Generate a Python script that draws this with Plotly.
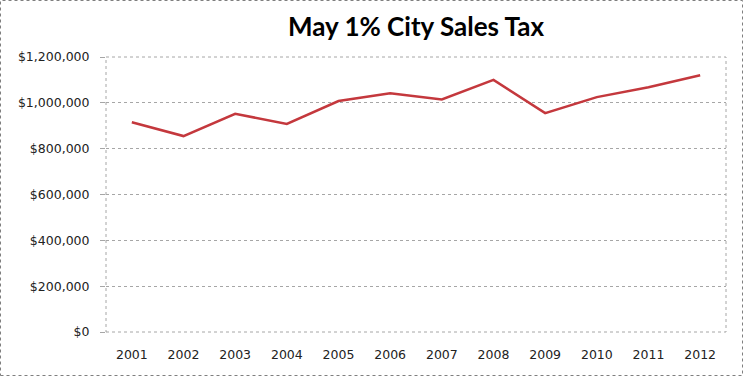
import plotly.graph_objects as go

years = ["2001", "2002", "2003", "2004", "2005", "2006", "2007", "2008", "2009", "2010", "2011", "2012"]
sales_tax = [915000, 855000, 952000, 908000, 1008000, 1042000, 1015000, 1100000, 955000, 1025000, 1068000, 1120000]
y_ticks = [0, 200000, 400000, 600000, 800000, 1000000, 1200000]
y_tick_labels = ["$0", "$200,000", "$400,000", "$600,000", "$800,000", "$1,000,000", "$1,200,000"]

W, H = 743, 376
ml, mr, mt, mb = 106, 17, 57, 44
pw, ph = W - ml - mr, H - mt - mb

fig = go.Figure()
fig.add_trace(go.Scatter(
    x=years, y=sales_tax, mode="lines",
    line=dict(color="#C4383D", width=2.5),
    hoverinfo="x+y",
))

grey = "#A6A6A6"
fig.update_layout(
    width=W, height=H,
    margin=dict(l=ml, r=mr, t=mt, b=mb),
    paper_bgcolor="white", plot_bgcolor="white",
    showlegend=False,
    title=dict(text="<b>May 1% City Sales Tax</b>", x=0.5, xref="paper", xanchor="center",
               y=1 - 27 / H, yanchor="middle",
               font=dict(family="Lato, Carlito, sans-serif", size=26, color="black")),
    font=dict(family="DejaVu Sans, Verdana, sans-serif", size=12.5, color="#222222"),
    xaxis=dict(type="category", range=[-0.5, len(years) - 0.5],
               showgrid=False, zeroline=False, showline=False,
               ticks="", ticklabelstandoff=13, tickfont=dict(size=12.5)),
    yaxis=dict(range=[0, 1200000], tickvals=y_ticks, ticktext=y_tick_labels,
               showgrid=True, gridcolor=grey, griddash="dot", gridwidth=1,
               zeroline=False, showline=False,
               ticks="outside", ticklen=5, tickcolor=grey, ticklabelstandoff=8,
               tickfont=dict(size=12.5)),
    shapes=[
        dict(type="rect", xref="paper", yref="paper", x0=0, x1=1, y0=0, y1=1,
             line=dict(color=grey, width=1, dash="dot"), fillcolor="rgba(0,0,0,0)", layer="below"),
        dict(type="rect", xref="paper", yref="paper",
             x0=(0.5 - ml) / pw, x1=(W - 0.5 - ml) / pw,
             y0=-(H - 0.5 - mt - ph) / ph, y1=(ph + mt - 0.5) / ph,
             line=dict(color="#7F7F7F", width=1, dash="dot"), fillcolor="rgba(0,0,0,0)"),
    ],
)

fig.write_html("out.html", config={"displayModeBar": False},
               post_script="document.body.style.margin='0';document.body.style.overflow='hidden';")
